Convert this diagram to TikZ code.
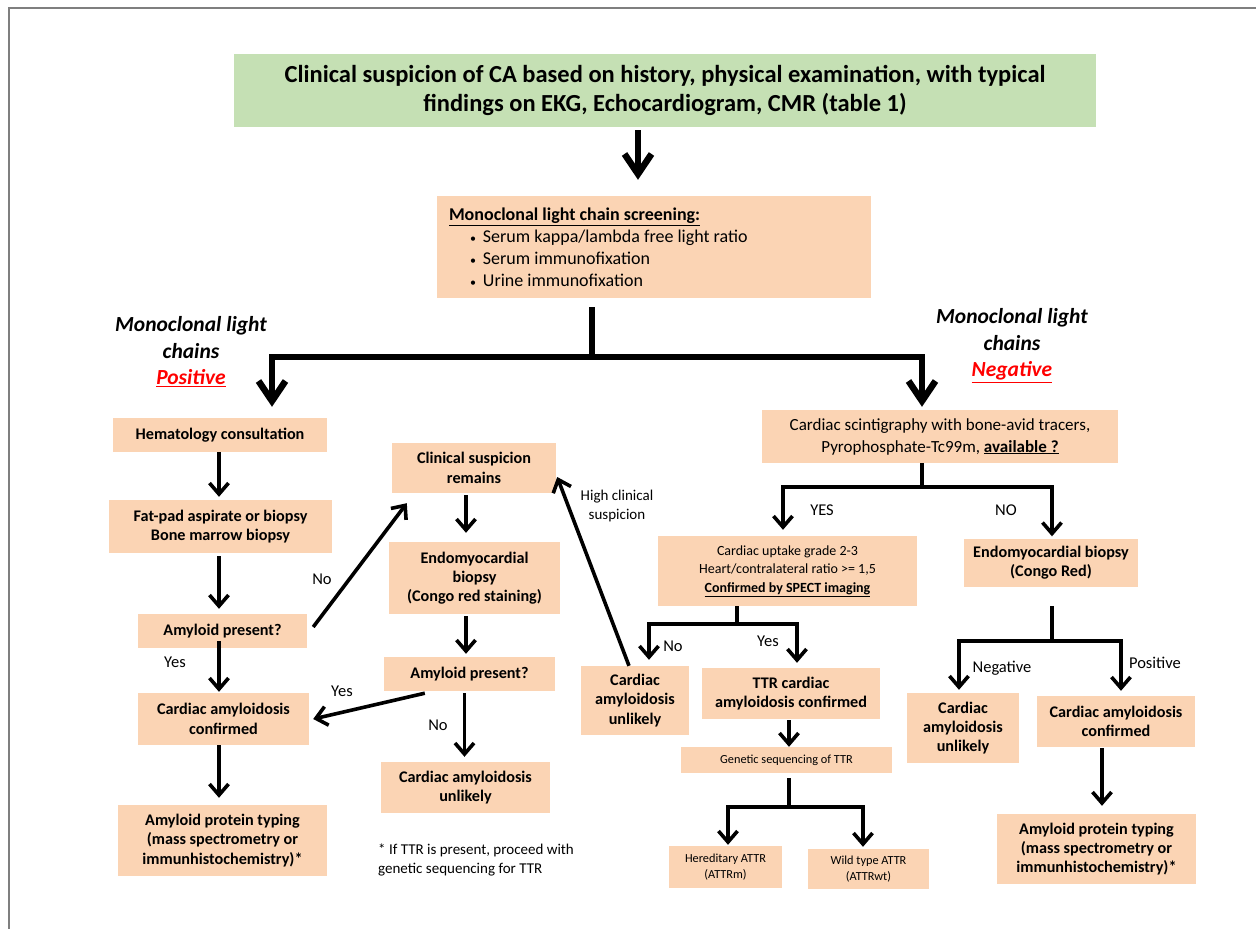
\documentclass[tikz,border=0pt]{standalone}
\usepackage{fontspec}
\setmainfont{Carlito}
\usetikzlibrary{arrows.meta,calc}
\definecolor{peach}{HTML}{FBD4B4}
\definecolor{lgreen}{HTML}{C5E0B4}
\definecolor{frame}{HTML}{7F7F7F}
\newcommand{\smbul}{{\fontsize{12}{12}\selectfont\textbullet}}
\begin{document}
\begin{tikzpicture}[x=1pt,y=-1pt,
  box/.style={fill=peach, inner sep=0pt, align=center},
  bb/.style={font=\bfseries\fontsize{16.2}{19.3}\selectfont},
  lbl/.style={inner sep=0pt, font=\fontsize{16.5}{18}\selectfont},
  arr/.style={line width=3.6pt, -{Straight Barb[length=11pt,width=19pt]}},
  bigarr/.style={line width=6.5pt, -{Straight Barb[length=20pt,width=27pt]}},
  trunk/.style={line width=6.5pt},
  midline/.style={line width=4.5pt}]
\useasboundingbox (0,0) rectangle (1256,929);
\draw[frame, line width=2pt] (8.5,929) -- (8.5,7.5) -- (1256,7.5);

% ---- boxes ----
\node[box, fill=lgreen, minimum width=862, minimum height=73, font=\bfseries\fontsize{24.5}{29}\selectfont] (top) at (665,90.5)
  {Clinical suspicion of CA based on history, physical examination, with typical\\findings on EKG, Echocardiogram, CMR (table 1)};
\node[box, minimum width=434, minimum height=102, text width=410, align=flush left, font=\fontsize{18}{22}\selectfont] (screen) at (654,247)
  {\textbf{\underline{Monoclonal light chain screening:}}\\
   \hspace*{21pt}\smbul\hspace{7pt}Serum kappa/lambda free light ratio\\
   \hspace*{21pt}\smbul\hspace{7pt}Serum immunofixation\\
   \hspace*{21pt}\smbul\hspace{7pt}Urine immunofixation};

\node[box, bb, minimum width=214, minimum height=34] (hema) at (220,435) {Hematology consultation};
\node[box, bb, minimum width=223, minimum height=53] (fat) at (220.5,526.5) {Fat-pad aspirate or biopsy\\Bone marrow biopsy};
\node[box, bb, minimum width=169, minimum height=34] (amy1) at (222.5,631) {Amyloid present?};
\node[box, bb, minimum width=171, minimum height=52] (conf1) at (223.5,719) {Cardiac amyloidosis\\confirmed};
\node[box, bb, minimum width=209, minimum height=71] (typ1) at (222.5,840.5) {Amyloid protein typing\\(mass spectrometry or\\immunhistochemistry)*};

\node[box, bb, minimum width=164, minimum height=50] (clin) at (474,468) {Clinical suspicion\\remains};
\node[box, bb, minimum width=171, minimum height=72] (endo) at (474.5,578) {Endomyocardial\\biopsy\\(Congo red staining)};
\node[box, bb, minimum width=171, minimum height=34] (amy2) at (469.5,674) {Amyloid present?};
\node[box, bb, minimum width=169, minimum height=51] (unl1) at (465.5,787.5) {Cardiac amyloidosis\\unlikely};

\node[box, minimum width=356, minimum height=53, font=\fontsize{17}{22}\selectfont] (scint) at (940,436.5)
  {Cardiac scintigraphy with bone-avid tracers,\\Pyrophosphate-Tc99m, \textbf{\underline{available ?}}};
\node[box, minimum width=259, minimum height=70, font=\fontsize{14}{18.5}\selectfont] (upt) at (787.5,571)
  {Cardiac uptake grade 2-3\\Heart/contralateral ratio >= 1,5\\\textbf{\underline{Confirmed by SPECT imaging}}};
\node[box, bb, minimum width=108, minimum height=69] (unl2) at (635,700.5) {Cardiac\\amyloidosis\\unlikely};
\node[box, bb, minimum width=178, minimum height=51] (ttr) at (791,693.5) {TTR cardiac\\amyloidosis confirmed};
\node[box, minimum width=211, minimum height=26, font=\fontsize{12.3}{14}\selectfont] (gen) at (786.5,760) {Genetic sequencing of TTR};
\node[box, minimum width=113, minimum height=42, font=\fontsize{12.3}{16.7}\selectfont] (her) at (725.5,867) {Hereditary ATTR\\(ATTRm)};
\node[box, minimum width=121, minimum height=40, font=\fontsize{12.3}{16.5}\selectfont] (wild) at (868.5,869) {Wild type ATTR\\(ATTRwt)};

\node[box, bb, minimum width=174, minimum height=48] (endo2) at (1051,563) {Endomyocardial biopsy\\(Congo Red)};
\node[box, bb, minimum width=112, minimum height=70] (unl3) at (963,728) {Cardiac\\amyloidosis\\unlikely};
\node[box, bb, minimum width=158, minimum height=51] (conf2) at (1116,721.5) {Cardiac amyloidosis\\confirmed};
\node[box, bb, minimum width=199, minimum height=70] (typ2) at (1096.5,849) {Amyloid protein typing\\(mass spectrometry or\\immunhistochemistry)*};

% ---- labels ----
\node[lbl, align=center, font=\bfseries\itshape\fontsize{21.5}{26.5}\selectfont] (posl) at (191,352)
  {Monoclonal light\\chains\\\textcolor{red}{\underline{Positive}}};
\node[lbl, align=center, font=\bfseries\itshape\fontsize{21.5}{26.5}\selectfont] (negl) at (1012,345.5)
  {Monoclonal light\\chains\\\textcolor{red}{\underline{Negative}}};
\node[lbl] (lno1) at (322,579) {No};
\node[lbl] (lyes1) at (175,662) {Yes};
\node[lbl] (lyes2) at (342,691) {Yes};
\node[lbl] (lno2) at (438,725) {No};
\node[lbl, align=center, font=\fontsize{15}{19}\selectfont] (lhigh) at (617,506) {High clinical\\suspicion};
\node[lbl] (lyes3) at (822,510) {YES};
\node[lbl] (lno3) at (1006,510) {NO};
\node[lbl] (lno4) at (673,646) {No};
\node[lbl] (lyes4) at (768,641) {Yes};
\node[lbl] (lneg) at (1002,668) {Negative};
\node[lbl] (lpos) at (1155,663) {Positive};
\node[lbl, anchor=west, align=flush left, font=\fontsize{15}{19}\selectfont] (foot) at (378,859.5)
  {* If TTR is present, proceed with\\genetic sequencing for TTR};

% ---- connectors ----
\coordinate (ax) at (638,0);
\draw[bigarr, shorten <=3pt, shorten >=16pt] (top.south -| ax) -- (screen.north -| ax);

\coordinate (tj) at (592,357);
\coordinate (tl) at (272,357);
\coordinate (tr) at (922,357);
\draw[trunk, shorten <=9pt] (screen.south -| tj) -- (tj);
\draw[bigarr, shorten >=11pt] (tj) -- (tl) -- (tl |- hema.north);
\draw[bigarr, shorten >=3pt] (tj) -- (tr) -- (tr |- scint.north);

\coordinate (lx) at (219,0);
\draw[arr, shorten >=3pt] (hema.south -| lx) -- (fat.north -| lx);
\draw[arr, shorten <=3pt, shorten >=5pt] (fat.south -| lx) -- (amy1.north -| lx);
\draw[arr, shorten <=-7pt, shorten >=1pt] (amy1.south -| lx) -- (conf1.north -| lx);
\draw[arr, shorten >=7pt] (conf1.south -| lx) -- (typ1.north -| lx);
\draw[arr] ($(amy1.east)+(6,-4)$) -- ($(clin.south west)+(15,10)$);

\coordinate (mx) at (466,0);
\draw[arr, shorten <=2pt, shorten >=9pt] (clin.south -| mx) -- (endo.north -| mx);
\draw[arr, shorten <=2pt, shorten >=3pt] (endo.south -| mx) -- (amy2.north -| mx);
\draw[arr] ($(amy2.south west)+(41,2)$) -- ($(conf1.east)+(4,0)$);
\coordinate (mx2) at (464.5,0);
\draw[arr, shorten <=2pt, shorten >=5pt] (amy2.south -| mx2) -- (unl1.north -| mx2);
\draw[arr] ($(unl2.north)+(-6,0)$) -- ($(clin.east)+(1,9)$);

\coordinate (sj) at (922,487);
\coordinate (sl) at (783,487);
\coordinate (sr) at (1052,487);
\draw[midline] (scint.south -| sj) -- (sj);
\draw[arr, shorten >=6pt] (sj) -- (sl) -- (sl |- upt.north);
\draw[arr, shorten >=2.5pt] (sj) -- (sr) -- (sr |- endo2.north);

\coordinate (uj) at (737,624);
\coordinate (ul) at (649,624);
\coordinate (ur) at (797,624);
\draw[midline] (upt.south -| uj) -- (uj);
\draw[arr, shorten >=6pt] (uj) -- (ul) -- (ul |- unl2.north);
\draw[arr, shorten >=5pt] (uj) -- (ur) -- (ur |- ttr.north);

\coordinate (gx) at (789,0);
\draw[arr, shorten <=1pt] (ttr.south -| gx) -- (gen.north -| gx);
\coordinate (gj) at (789,807);
\coordinate (gl) at (728,807);
\coordinate (gr) at (863,807);
\draw[midline, shorten <=5pt] (gen.south -| gj) -- (gj);
\draw[arr, shorten >=1pt] (gj) -- (gl) -- (gl |- her.north);
\draw[arr, shorten >=2pt] (gj) -- (gr) -- (gr |- wild.north);

\coordinate (ej) at (1052,641);
\coordinate (el) at (959,641);
\coordinate (er) at (1121,641);
\draw[midline, shorten <=19pt] (endo2.south -| ej) -- (ej);
\draw[arr, shorten >=3pt] (ej) -- (el) -- (el |- unl3.north);
\draw[arr, shorten >=5pt] (ej) -- (er) -- (er |- conf2.north);

\coordinate (rx) at (1102,0);
\draw[arr, shorten <=1pt, shorten >=8pt] (conf2.south -| rx) -- (typ2.north -| rx);
\end{tikzpicture}
\end{document}
